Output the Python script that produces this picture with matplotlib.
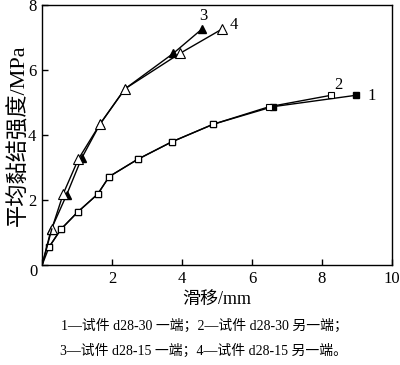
import matplotlib
matplotlib.use("Agg")
import matplotlib.pyplot as plt

plt.rcParams['font.family'] = ['Liberation Serif', 'Noto Sans CJK SC']

s1_x = [0, 0.2, 0.54, 1.02, 1.59, 1.92, 2.73, 3.71, 4.89, 6.59, 8.96]
s1_y = [0, 0.56, 1.11, 1.64, 2.19, 2.73, 3.26, 3.80, 4.34, 4.88, 5.23]
s2_x = [0, 0.2, 0.54, 1.02, 1.59, 1.92, 2.73, 3.71, 4.89, 6.49, 8.25]
s2_y = [0, 0.56, 1.11, 1.64, 2.19, 2.73, 3.26, 3.80, 4.34, 4.88, 5.23]
s3_x = [0, 0.26, 0.70, 1.13, 1.66, 2.37, 3.75, 4.56]
s3_y = [0, 1.10, 2.16, 3.29, 4.35, 5.43, 6.52, 7.26]
s4_x = [0, 0.28, 0.61, 1.04, 1.66, 2.37, 3.94, 5.13]
s4_y = [0, 1.12, 2.21, 3.27, 4.35, 5.43, 6.52, 7.26]

xticks = [0, 2, 4, 6, 8, 10]
yticks = [0, 2, 4, 6, 8]
xlabel = '滑移/mm'
ylabel = '平均黏结强度/MPa'
caption1 = '1—试件 d28-30 一端；2—试件 d28-30 另一端；'
caption2 = '3—试件 d28-15 一端；4—试件 d28-15 另一端。'

fig = plt.figure(figsize=(4.0, 3.65), dpi=100)
ax = fig.add_axes([0.105, 0.273, 0.875, 0.7125])

lw = 1.0
ax.plot(s1_x[1:], s1_y[1:], color='black', lw=lw, marker='s', ms=4.5, mfc='black', mec='black')
ax.plot([0, s1_x[1]], [0, s1_y[1]], color='black', lw=lw)
ax.plot(s2_x[1:], s2_y[1:], color='black', lw=lw, marker='s', ms=4.5, mfc='white', mec='black', mew=0.8)
ax.plot(s3_x[1:], s3_y[1:], color='black', lw=lw, marker='^', ms=6, mfc='black', mec='black')
ax.plot([0, s3_x[1]], [0, s3_y[1]], color='black', lw=lw)
ax.plot(s4_x[1:], s4_y[1:], color='black', lw=lw, marker='^', ms=6.5, mfc='white', mec='black', mew=0.8)
ax.plot([0, s4_x[1]], [0, s4_y[1]], color='black', lw=lw)

ax.text(8.35, 5.3, '2', fontsize=12, ha='left', va='bottom')
ax.text(9.3, 5.2, '1', fontsize=12, ha='left', va='center')
ax.text(4.6, 7.42, '3', fontsize=12, ha='center', va='bottom')
ax.text(5.35, 7.4, '4', fontsize=12, ha='left', va='center')

ax.set_xlim(0, 10)
ax.set_ylim(0, 8)
ax.set_xticks(xticks)
ax.set_yticks(yticks)
ax.set_xticklabels([''] + [str(v) for v in xticks[1:]])
ax.set_yticklabels([''] + [str(v) for v in yticks[1:]])
ax.text(-0.12, -0.2, '0', fontsize=12, ha='right', va='center')
ax.tick_params(direction='in', length=4, width=1, labelsize=12, pad=4)
for sp in ax.spines.values():
    sp.set_linewidth(1)

ax.set_xlabel(xlabel, fontsize=13, labelpad=3)
ax.set_ylabel(ylabel, fontsize=16, labelpad=-1)

fig.text(0.51, 1 - 326/365, caption1, fontsize=10, ha='center', va='center')
fig.text(0.51, 1 - 351/365, caption2, fontsize=10, ha='center', va='center')

fig.savefig('out.png', dpi=100)
